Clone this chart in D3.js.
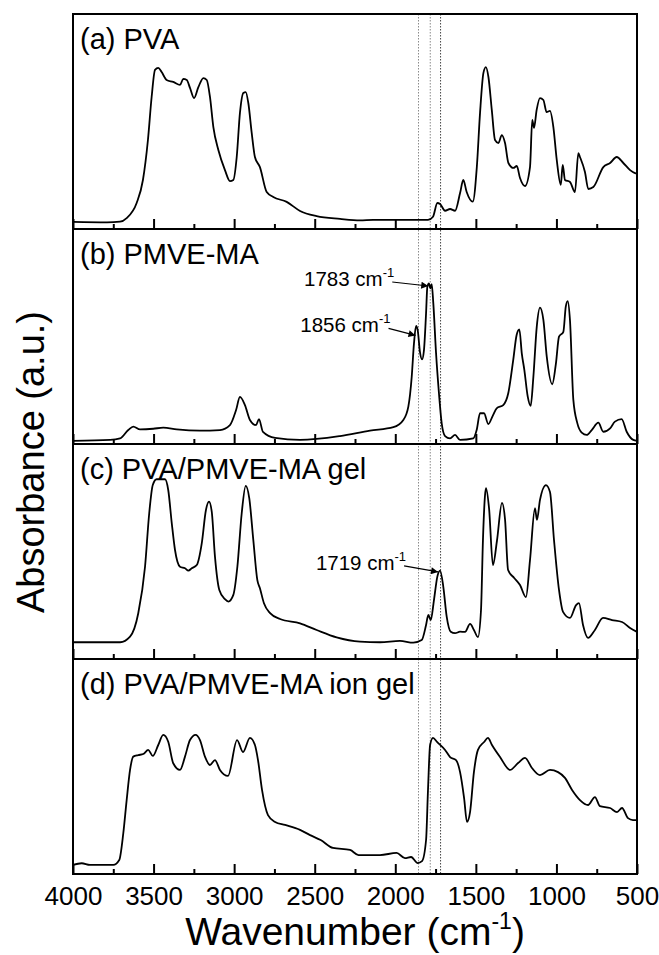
<!DOCTYPE html>
<html>
<head>
<meta charset="utf-8">
<script src="https://cdn.jsdelivr.net/npm/d3@7"></script>
<style>
  body { margin: 0; background: #fff; }
  text { font-family: 'Liberation Sans', Arial, sans-serif; fill: #000; }
</style>
</head>
<body>
<div id="chart"></div>
<script>
const W = 659
const H = 955

const LEFT = 73
const RIGHT = 637
const TOP = 14
const PANEL_H = 215

// [wavenumber, absorbance (normalised to panel height)]
const pva = [
  [4000, 0.033], [3789, 0.031], [3708, 0.034], [3667, 0.051], [3605, 0.121], [3566, 0.228],
  [3535, 0.414], [3512, 0.614], [3491, 0.74], [3471, 0.749], [3450, 0.73], [3419, 0.693],
  [3378, 0.684], [3336, 0.67], [3316, 0.698], [3294, 0.693], [3274, 0.656], [3249, 0.609],
  [3222, 0.66], [3191, 0.702], [3170, 0.693], [3150, 0.614], [3129, 0.474], [3098, 0.367],
  [3057, 0.274], [3026, 0.223], [3005, 0.228], [2984, 0.335], [2964, 0.54], [2943, 0.633],
  [2928, 0.637], [2912, 0.586], [2891, 0.447], [2871, 0.335], [2840, 0.288], [2798, 0.172],
  [2757, 0.149], [2674, 0.126], [2591, 0.084], [2488, 0.06], [2343, 0.047], [2219, 0.04],
  [2138, 0.042], [1797, 0.042], [1766, 0.057], [1739, 0.121], [1722, 0.116], [1691, 0.085],
  [1660, 0.093], [1629, 0.085], [1598, 0.167], [1578, 0.228], [1557, 0.172], [1519, 0.127],
  [1494, 0.288], [1474, 0.54], [1453, 0.726], [1438, 0.753], [1422, 0.707], [1401, 0.553],
  [1381, 0.414], [1360, 0.4], [1339, 0.437], [1319, 0.4], [1298, 0.307], [1267, 0.284],
  [1246, 0.293], [1226, 0.237], [1195, 0.2], [1164, 0.288], [1150, 0.507], [1139, 0.47],
  [1123, 0.553], [1102, 0.609], [1081, 0.6], [1061, 0.544], [1040, 0.549], [1019, 0.474],
  [998, 0.321], [973, 0.205], [961, 0.298], [947, 0.228], [916, 0.219], [885, 0.172],
  [864, 0.353], [854, 0.335], [823, 0.265], [802, 0.186], [771, 0.195], [709, 0.288],
  [667, 0.307], [626, 0.335], [585, 0.307], [543, 0.274], [512, 0.26], [500, 0.258]
]

const pmveMa = [
  [4000, 0.015], [3770, 0.019], [3708, 0.026], [3657, 0.065], [3626, 0.081], [3584, 0.068],
  [3502, 0.071], [3440, 0.076], [3356, 0.068], [3212, 0.062], [3088, 0.065], [3026, 0.088],
  [2988, 0.158], [2964, 0.219], [2933, 0.181], [2902, 0.112], [2864, 0.088], [2846, 0.116],
  [2821, 0.056], [2746, 0.028], [2591, 0.019], [2343, 0.037], [2157, 0.062], [2012, 0.078],
  [1950, 0.112], [1919, 0.174], [1898, 0.313], [1884, 0.468], [1871, 0.549], [1861, 0.53],
  [1847, 0.429], [1834, 0.394], [1822, 0.437], [1809, 0.608], [1801, 0.732], [1791, 0.747],
  [1783, 0.724], [1774, 0.744], [1764, 0.654], [1747, 0.422], [1729, 0.236], [1712, 0.096],
  [1691, 0.037], [1660, 0.026], [1629, 0.042], [1598, 0.019], [1516, 0.026], [1495, 0.065],
  [1474, 0.143], [1449, 0.143], [1423, 0.093], [1396, 0.13], [1371, 0.166], [1330, 0.181],
  [1299, 0.236], [1268, 0.391], [1247, 0.507], [1230, 0.533], [1215, 0.422], [1199, 0.344],
  [1178, 0.22], [1160, 0.177], [1143, 0.313], [1122, 0.546], [1102, 0.634], [1081, 0.577],
  [1060, 0.406], [1026, 0.278], [1003, 0.375], [984, 0.499], [957, 0.522], [942, 0.639],
  [930, 0.665], [916, 0.577], [895, 0.205], [870, 0.096], [843, 0.053], [812, 0.042],
  [781, 0.065], [740, 0.099], [709, 0.057], [667, 0.073], [637, 0.104], [595, 0.116],
  [564, 0.057], [523, 0.019], [500, 0.015]
]

const gel = [
  [4000, 0.078], [3708, 0.078], [3646, 0.104], [3595, 0.213], [3553, 0.429], [3527, 0.678],
  [3505, 0.809], [3481, 0.836], [3429, 0.836], [3409, 0.786], [3387, 0.631], [3367, 0.507],
  [3336, 0.429], [3305, 0.422], [3284, 0.411], [3263, 0.422], [3232, 0.437], [3201, 0.538],
  [3175, 0.693], [3156, 0.732], [3139, 0.685], [3119, 0.476], [3092, 0.321], [3057, 0.278],
  [3036, 0.267], [3005, 0.298], [2980, 0.429], [2953, 0.678], [2928, 0.805], [2906, 0.747],
  [2881, 0.553], [2856, 0.367], [2840, 0.329], [2815, 0.259], [2777, 0.213], [2715, 0.186],
  [2591, 0.166], [2488, 0.135], [2364, 0.101], [2219, 0.081], [2095, 0.078], [1971, 0.084],
  [1888, 0.076], [1836, 0.088], [1809, 0.158], [1795, 0.205], [1780, 0.181], [1760, 0.274],
  [1739, 0.383], [1722, 0.411], [1702, 0.336], [1681, 0.197], [1656, 0.127], [1629, 0.12],
  [1598, 0.127], [1567, 0.126], [1536, 0.163], [1512, 0.135], [1487, 0.102], [1468, 0.228],
  [1456, 0.553], [1443, 0.763], [1437, 0.795], [1418, 0.7], [1394, 0.437], [1369, 0.55],
  [1338, 0.726], [1319, 0.65], [1300, 0.414], [1262, 0.377], [1226, 0.344], [1189, 0.288],
  [1164, 0.46], [1133, 0.702], [1121, 0.647], [1102, 0.74], [1065, 0.809], [1040, 0.777],
  [1015, 0.553], [984, 0.321], [959, 0.219], [916, 0.191], [878, 0.251], [860, 0.26],
  [835, 0.158], [804, 0.098], [761, 0.135], [711, 0.191], [655, 0.181], [593, 0.172],
  [543, 0.144], [500, 0.126]
]

const ionGel = [
  [4000, 0.042], [3946, 0.05], [3895, 0.042], [3750, 0.042], [3713, 0.065], [3688, 0.189],
  [3667, 0.344], [3646, 0.484], [3626, 0.546], [3595, 0.553], [3564, 0.558], [3533, 0.577],
  [3505, 0.549], [3471, 0.6], [3440, 0.647], [3409, 0.615], [3378, 0.515], [3336, 0.484],
  [3305, 0.546], [3274, 0.623], [3239, 0.647], [3212, 0.623], [3181, 0.546], [3150, 0.507],
  [3119, 0.53], [3088, 0.484], [3038, 0.456], [2982, 0.623], [2945, 0.567], [2902, 0.633],
  [2871, 0.6], [2852, 0.53], [2827, 0.391], [2790, 0.274], [2746, 0.242], [2684, 0.228],
  [2591, 0.205], [2529, 0.181], [2463, 0.158], [2387, 0.121], [2281, 0.112], [2228, 0.088],
  [2095, 0.088], [1992, 0.098], [1940, 0.074], [1902, 0.079], [1861, 0.051], [1834, 0.06],
  [1809, 0.158], [1797, 0.391], [1784, 0.6], [1766, 0.633], [1741, 0.614], [1691, 0.577],
  [1660, 0.544], [1623, 0.53], [1598, 0.474], [1573, 0.353], [1555, 0.242], [1536, 0.288],
  [1512, 0.474], [1487, 0.577], [1449, 0.614], [1425, 0.633], [1400, 0.6], [1350, 0.544],
  [1288, 0.484], [1238, 0.516], [1195, 0.54], [1152, 0.493], [1102, 0.46], [1040, 0.484],
  [990, 0.474], [947, 0.447], [903, 0.391], [854, 0.344], [804, 0.321], [761, 0.358],
  [730, 0.316], [667, 0.307], [624, 0.288], [593, 0.307], [556, 0.26], [525, 0.251],
  [500, 0.251]
]

const panelLabels = ['(a) PVA', '(b) PMVE-MA', '(c) PVA/PMVE-MA gel', '(d) PVA/PMVE-MA ion gel']
const spectra = [pva, pmveMa, gel, ionGel]

const majorTicks = [4000, 3500, 3000, 2500, 2000, 1500, 1000, 500]
const minorTicks = [3750, 3250, 2750, 2250, 1750, 1250, 750]

const refLines = [1856, 1783, 1719]
const refColors = ['#8a8a8a', '#8a8a8a', '#444']

// panel index, peak wavenumber, peak height, tail offset
const annotations = [
  { panel: 1, wn: 1783, val: 0.735, dx: -36, dy: -4, label: '1783' },
  { panel: 1, wn: 1862, val: 0.505, dx: -27, dy: -7, label: '1856' },
  { panel: 2, wn: 1722, val: 0.405, dx: -34, dy: -6, label: '1719' }
]

const svg = d3.select('#chart').append('svg').attr('width', W).attr('height', H)

svg.append('defs').append('marker')
  .attr('id', 'arrow')
  .attr('viewBox', '0 0 10 10')
  .attr('refX', 10).attr('refY', 5)
  .attr('markerWidth', 10).attr('markerHeight', 7)
  .attr('markerUnits', 'userSpaceOnUse')
  .attr('orient', 'auto')
  .append('path').attr('d', 'M0,0 L10,5 L0,10 Z').attr('fill', '#000')

const x = d3.scaleLinear().domain([4000, 500]).range([LEFT, RIGHT])

const panelY = (i) => d3.scaleLinear().domain([0, 1]).range([TOP + (i + 1) * PANEL_H, TOP + i * PANEL_H])

const line = (y) => d3.line().x((d) => x(d[0])).y((d) => y(d[1])).curve(d3.curveMonotoneX)

const bottomAll = TOP + 4 * PANEL_H

// dotted reference lines
refLines.forEach((wn, i) => {
  svg.append('line')
    .attr('x1', x(wn)).attr('x2', x(wn))
    .attr('y1', TOP).attr('y2', bottomAll)
    .attr('stroke', refColors[i])
    .attr('stroke-width', 1)
    .attr('stroke-dasharray', '1.5 1.5')
})

spectra.forEach((data, i) => {
  const y = panelY(i)
  const top = TOP + i * PANEL_H
  const bottom = top + PANEL_H

  svg.append('path')
    .attr('d', line(y)(data))
    .attr('fill', 'none')
    .attr('stroke', '#000')
    .attr('stroke-width', 1.8)
    .attr('stroke-linejoin', 'round')

  const isLast = i === spectra.length - 1

  const ax = svg.append('g')
    .attr('transform', `translate(0, ${bottom})`)
    .call(
      d3.axisBottom(x)
        .tickValues(majorTicks)
        .tickSize(-10)
        .tickPadding(13)
        .tickFormat(isLast ? d3.format('d') : () => '')
    )
  ax.select('.domain').remove()
  ax.selectAll('.tick line').attr('stroke', '#000').attr('stroke-width', 2)
  ax.selectAll('.tick text')
    .attr('font-size', 26)
    .attr('font-family', "'Liberation Sans', Arial, sans-serif")
    .attr('fill', '#000')

  const minor = svg.append('g')
    .attr('transform', `translate(0, ${bottom})`)
    .call(d3.axisBottom(x).tickValues(minorTicks).tickSize(-5).tickFormat(() => ''))
  minor.select('.domain').remove()
  minor.selectAll('.tick line').attr('stroke', '#000').attr('stroke-width', 2)

  svg.append('rect')
    .attr('x', LEFT).attr('y', top)
    .attr('width', RIGHT - LEFT).attr('height', PANEL_H)
    .attr('fill', 'none')
    .attr('stroke', '#000')
    .attr('stroke-width', 2)

  svg.append('text')
    .attr('x', LEFT + 7)
    .attr('y', top + 35)
    .attr('font-size', 29)
    .text(panelLabels[i])
})

annotations.forEach((a) => {
  const y = panelY(a.panel)
  const tipX = x(a.wn) - 2
  const tipY = y(a.val)
  const tailX = tipX + a.dx
  const tailY = tipY + a.dy

  svg.append('line')
    .attr('x1', tailX).attr('y1', tailY)
    .attr('x2', tipX).attr('y2', tipY)
    .attr('stroke', '#000')
    .attr('stroke-width', 1.2)
    .attr('marker-end', 'url(#arrow)')

  const t = svg.append('text')
    .attr('x', tailX + 2)
    .attr('y', tailY + 4)
    .attr('text-anchor', 'end')
    .attr('font-size', 20.5)
  t.append('tspan').text(`${a.label} cm`)
  t.append('tspan').attr('dy', -9).attr('font-size', 13).text('-1')
})

// axis titles
const xt = svg.append('text')
  .attr('x', (LEFT + RIGHT) / 2)
  .attr('y', 945)
  .attr('text-anchor', 'middle')
  .attr('font-size', 39)
xt.append('tspan').text('Wavenumber (cm')
xt.append('tspan').attr('dy', -16).attr('font-size', 23).text('-1')
xt.append('tspan').attr('dy', 16).text(')')

svg.append('text')
  .attr('transform', 'translate(44, 462) rotate(-90)')
  .attr('text-anchor', 'middle')
  .attr('font-size', 38)
  .text('Absorbance (a.u.)')
</script>
</body>
</html>
